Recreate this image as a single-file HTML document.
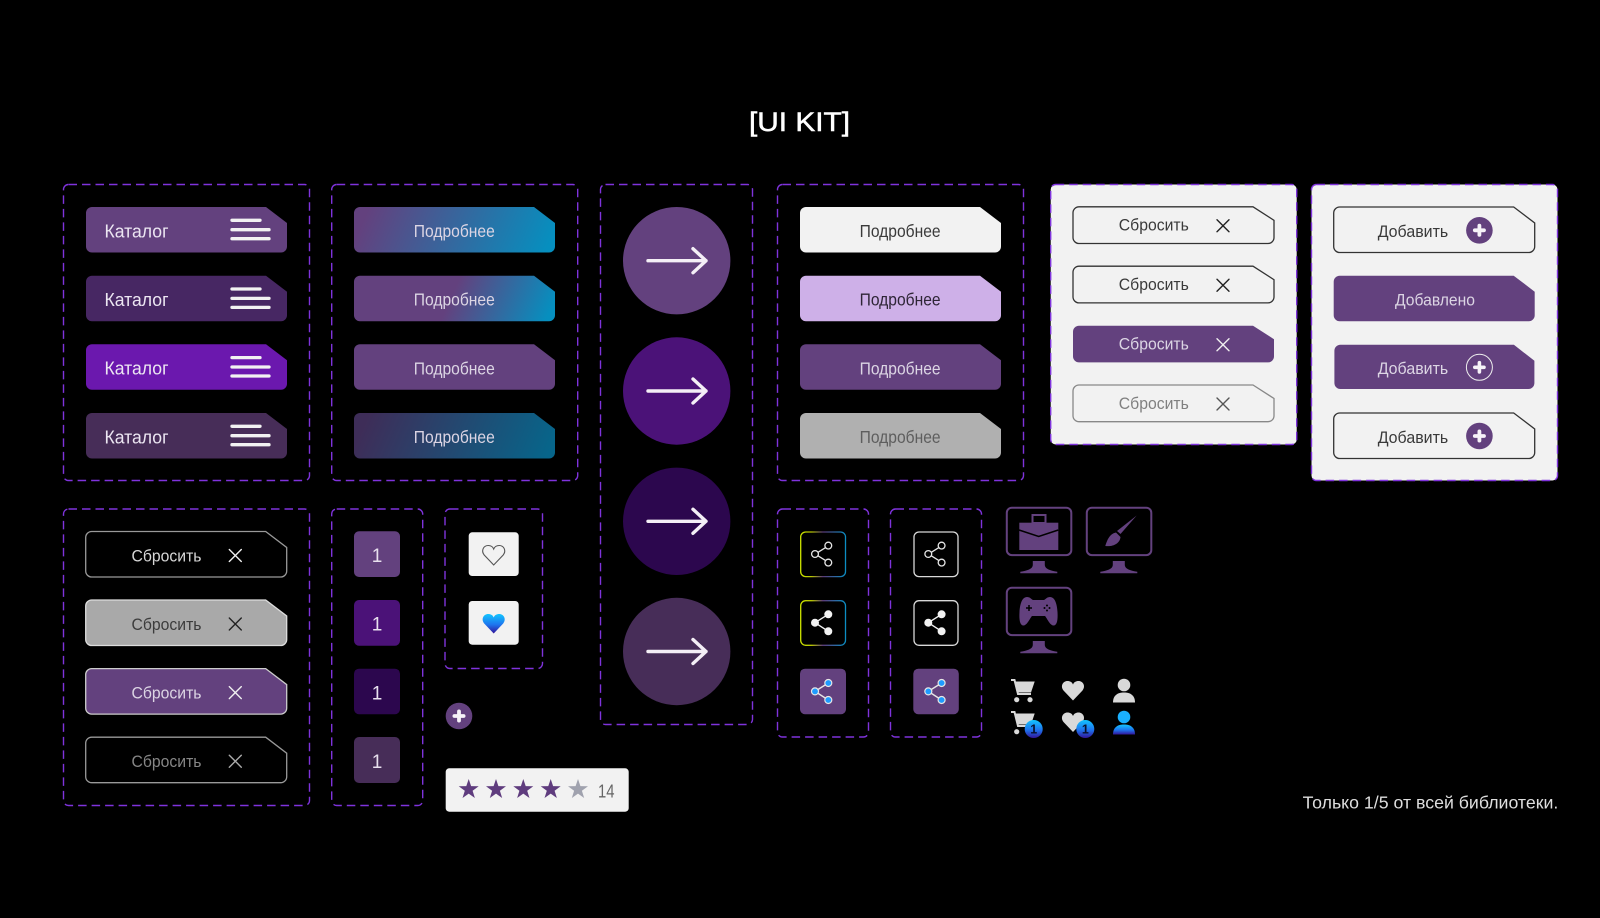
<!DOCTYPE html>
<html lang="ru"><head><meta charset="utf-8"><title>UI KIT</title>
<style>
html,body{margin:0;padding:0;background:#000}
svg{display:block}
text{font-family:"Liberation Sans","Noto Sans CJK SC",sans-serif}
.p{fill:none;stroke:#7f33dc;stroke-width:1.4;stroke-dasharray:8.5 5}
.pw{fill:#f2f2f2;stroke:#7f33dc;stroke-width:1.4;stroke-dasharray:8.5 5}
.x{stroke-width:1.4;fill:none;stroke-linecap:round}
</style></head><body>
<svg width="1600" height="918" viewBox="0 0 1600 918" xmlns="http://www.w3.org/2000/svg">
<defs>
<path id="b" d="M6 0H180L201 16V39.5a6 6 0 0 1-6 6H6a6 6 0 0 1-6-6V6a6 6 0 0 1 6-6Z"/>
<path id="s" d="M6 0H180L201 13.5V30.7a6 6 0 0 1-6 6H6a6 6 0 0 1-6-6V6a6 6 0 0 1 6-6Z"/>
<g id="menu" stroke="#f2f2f2" stroke-width="3.3" stroke-linecap="round"><path d="M146 13.3H174M146 22.7H183M146 31.7H183"/></g>
<g id="arrow" fill="none" stroke="#f4eff6" stroke-width="3.4" stroke-linecap="round" stroke-linejoin="round"><path d="M-29 0H29M16-12 29 0 16 12"/></g>
<path id="star" d="M0-10.5 2.41-3.32 9.99-3.24 3.9 1.27 6.17 8.49 0 4.1-6.17 8.49-3.9 1.27-9.99-3.24-2.41-3.32Z"/>
<g id="plus"><circle r="13.3" fill="#63417e"/><path d="M-4.6 0H4.6M0-4.6V4.6" stroke="#f6f2f8" stroke-width="3.8" stroke-linecap="round"/></g>
<path id="heart" d="M0 19.5-9.5 9.5C-13 5-10 0-5.5 0-3 0-1 1 0 3.5 1 1 3 0 5.5 0 10 0 13 5 9.5 9.5Z"/>
<g id="mon"><rect x="-32" y="0" width="64.5" height="47.4" rx="5" fill="none" stroke="#63417e" stroke-width="2"/><path fill="#63417e" d="M-6 53.3H6V57.5C6.5 61.5 12 63 18.5 64V65.6H-18.5V64C-12 63-6.5 61.5-6 57.5Z"/></g>
<g id="cart"><path d="M4 1.5H23.7L20 12.5H6.5Z" fill="#d9d9d9"/><path d="M0 0H3.5L7 14H20" fill="none" stroke="#d9d9d9" stroke-width="2"/><circle cx="5.7" cy="19.7" r="2.6" fill="#d9d9d9"/><circle cx="19" cy="19.7" r="2.6" fill="#d9d9d9"/></g>
<g id="badge"><circle r="9" fill="url(#gb)"/><text y="4.5" text-anchor="middle" font-size="12.5" font-weight="bold" fill="#08102e">1</text></g>
<g id="shO" fill="none" stroke="#e6e6e6" stroke-width="1.3"><path d="M18 21 26 16M18 24.5 26 29.5"/><circle cx="15" cy="22.7" r="3.4"/><circle cx="28.3" cy="14.3" r="3.4"/><circle cx="28.3" cy="31.3" r="3.4"/></g>
<g id="shF" fill="#f2f2f2" stroke="#f2f2f2"><path d="M15 22.7 28.3 14.3M15 22.7 28.3 31.3" stroke-width="1.4"/><circle cx="15" cy="22.7" r="3.5"/><circle cx="28.3" cy="14.3" r="3.5"/><circle cx="28.3" cy="31.3" r="3.5"/></g>
<g id="shB" stroke="#e6e6e6" stroke-width="1.2"><path d="M15 22.7 28.3 14.3M15 22.7 28.3 31.3" stroke-width="1.4"/><g fill="#1e9bff"><circle cx="15" cy="22.7" r="3.5"/><circle cx="28.3" cy="14.3" r="3.5"/><circle cx="28.3" cy="31.3" r="3.5"/></g></g>
<linearGradient id="g1" x1="0" y1=".45" x2="1" y2=".55"><stop offset=".03" stop-color="#63417e"/><stop offset="1" stop-color="#068fbf"/></linearGradient>
<linearGradient id="g2" x1="0" y1=".45" x2="1" y2=".55"><stop offset=".48" stop-color="#63417e"/><stop offset="1" stop-color="#068fbf"/></linearGradient>
<linearGradient id="g4" x1="0" y1=".45" x2="1" y2=".55"><stop offset=".03" stop-color="#3e2d58"/><stop offset="1" stop-color="#07658a"/></linearGradient>
<linearGradient id="gb" x1="0" y1="0" x2="0" y2="1"><stop offset="0" stop-color="#12c5ff"/><stop offset=".55" stop-color="#1e74ee"/><stop offset="1" stop-color="#32149a"/></linearGradient>
<linearGradient id="gy" gradientUnits="userSpaceOnUse" x1="0" y1="0" x2="46" y2="0"><stop offset="0" stop-color="#cfe600"/><stop offset=".25" stop-color="#b5c400"/><stop offset=".5" stop-color="#5b3a78"/><stop offset="1" stop-color="#0a8fc4"/></linearGradient>
</defs>

<rect width="1600" height="918" fill="#000"/>
<text x="749" y="131" font-size="26.5" fill="#fff" stroke="#fff" stroke-width=".5" textLength="101" lengthAdjust="spacingAndGlyphs">[UI KIT]</text>

<!-- panels -->
<rect class="p" x="63.5" y="184.5" width="246" height="296" rx="5"/>
<rect class="p" x="331.7" y="184.5" width="246" height="296" rx="5"/>
<rect class="p" x="600.5" y="184.5" width="152" height="540" rx="5"/>
<rect class="p" x="777.5" y="184.5" width="246" height="296" rx="5"/>
<rect class="pw" x="1050.7" y="184.5" width="246" height="260" rx="5"/>
<rect class="pw" x="1311.5" y="184.5" width="246" height="296" rx="5"/>
<rect class="p" x="63.5" y="509" width="246" height="296.5" rx="5"/>
<rect class="p" x="331.7" y="509" width="91" height="296.5" rx="5"/>
<rect class="p" x="445" y="509" width="97.5" height="159.5" rx="5"/>
<rect class="p" x="777.5" y="509" width="91" height="228" rx="5"/>
<rect class="p" x="890.5" y="509" width="91" height="228" rx="5"/>

<!-- catalog -->
<g font-size="18.5" fill="#ece6f2">
<g transform="translate(86 207)"><use href="#b" fill="#63417e"/><use href="#menu"/><text x="18.5" y="30.3" textLength="64" lengthAdjust="spacingAndGlyphs">Каталог</text></g>
<g transform="translate(86 275.7)"><use href="#b" fill="#472763"/><use href="#menu"/><text x="18.5" y="30.3" textLength="64" lengthAdjust="spacingAndGlyphs">Каталог</text></g>
<g transform="translate(86 344.3)"><use href="#b" fill="#6b18ae"/><use href="#menu"/><text x="18.5" y="30.3" textLength="64" lengthAdjust="spacingAndGlyphs">Каталог</text></g>
<g transform="translate(86 413)"><use href="#b" fill="#472d58"/><use href="#menu"/><text x="18.5" y="30.3" textLength="64" lengthAdjust="spacingAndGlyphs">Каталог</text></g>
</g>

<!-- gradient buttons -->
<g font-size="17.5" fill="#dcd5e4">
<g transform="translate(354 207)"><use href="#b" fill="url(#g1)"/><text x="59.8" y="30" textLength="81" lengthAdjust="spacingAndGlyphs">Подробнее</text></g>
<g transform="translate(354 275.7)"><use href="#b" fill="url(#g2)"/><text x="59.8" y="30" textLength="81" lengthAdjust="spacingAndGlyphs">Подробнее</text></g>
<g transform="translate(354 344.3)"><use href="#b" fill="#63417e"/><text x="59.8" y="30" textLength="81" lengthAdjust="spacingAndGlyphs">Подробнее</text></g>
<g transform="translate(354 413)"><use href="#b" fill="url(#g4)"/><text x="59.8" y="30" textLength="81" lengthAdjust="spacingAndGlyphs">Подробнее</text></g>
</g>

<!-- circles -->
<g transform="translate(676.7 260.7)"><circle r="53.7" fill="#63417e"/><use href="#arrow" x=".3"/></g>
<g transform="translate(676.7 391)"><circle r="53.7" fill="#4b1278"/><use href="#arrow" x=".3"/></g>
<g transform="translate(676.7 521.3)"><circle r="53.7" fill="#2c074e"/><use href="#arrow" x=".3"/></g>
<g transform="translate(676.7 651.5)"><circle r="53.7" fill="#472d58"/><use href="#arrow" x=".3"/></g>

<!-- light buttons -->
<g font-size="17.5">
<g transform="translate(800 207)"><use href="#b" fill="#f2f2f2"/><text x="59.6" y="30" fill="#3a3a3a" textLength="81" lengthAdjust="spacingAndGlyphs">Подробнее</text></g>
<g transform="translate(800 275.7)"><use href="#b" fill="#ceb0e8"/><text x="59.6" y="30" fill="#2e2536" textLength="81" lengthAdjust="spacingAndGlyphs">Подробнее</text></g>
<g transform="translate(800 344.3)"><use href="#b" fill="#63417e"/><text x="59.6" y="30" fill="#dcd5e4" textLength="81" lengthAdjust="spacingAndGlyphs">Подробнее</text></g>
<g transform="translate(800 413)"><use href="#b" fill="#b0b0b0"/><text x="59.6" y="30" fill="#5e5e5e" textLength="81" lengthAdjust="spacingAndGlyphs">Подробнее</text></g>
</g>

<!-- reset (light panel) -->
<g font-size="17">
<g transform="translate(1073 206.8)"><use href="#s" fill="#f2f2f2" stroke="#333" stroke-width="1.3"/><text x="45.8" y="23.8" fill="#3a3a3a" textLength="70" lengthAdjust="spacingAndGlyphs">Сбросить</text><path class="x" stroke="#222" d="M144 13 156 25M156 13 144 25"/></g>
<g transform="translate(1073 266.2)"><use href="#s" fill="#f2f2f2" stroke="#333" stroke-width="1.3"/><text x="45.8" y="23.8" fill="#3a3a3a" textLength="70" lengthAdjust="spacingAndGlyphs">Сбросить</text><path class="x" stroke="#222" d="M144 13 156 25M156 13 144 25"/></g>
<g transform="translate(1073 325.7)"><use href="#s" fill="#63417e"/><text x="45.8" y="23.8" fill="#dcd5e4" textLength="70" lengthAdjust="spacingAndGlyphs">Сбросить</text><path class="x" stroke="#f0f0f0" d="M144 13 156 25M156 13 144 25"/></g>
<g transform="translate(1073 385)"><use href="#s" fill="#f2f2f2" stroke="#888" stroke-width="1.3"/><text x="45.8" y="23.8" fill="#808080" textLength="70" lengthAdjust="spacingAndGlyphs">Сбросить</text><path class="x" stroke="#555" d="M144 13 156 25M156 13 144 25"/></g>
</g>

<!-- add -->
<g font-size="17">
<g transform="translate(1333.7 207)"><use href="#b" fill="#f2f2f2" stroke="#333" stroke-width="1.3"/><text x="44" y="30" fill="#3a3a3a" textLength="70.5" lengthAdjust="spacingAndGlyphs">Добавить</text><use href="#plus" x="145.7" y="23.3"/></g>
<g transform="translate(1333.7 275.7)"><use href="#b" fill="#63417e"/><text x="61.3" y="30" fill="#dcd5e4" textLength="80" lengthAdjust="spacingAndGlyphs">Добавлено</text></g>
<g transform="translate(1334.4 344.8)"><path d="M6 0H179.5L200 16V38.2a6 6 0 0 1-6 6H6a6 6 0 0 1-6-6V6a6 6 0 0 1 6-6Z" fill="#63417e"/><text x="43.3" y="29.4" fill="#dcd5e4" textLength="70.5" lengthAdjust="spacingAndGlyphs">Добавить</text><g transform="translate(145 22.5)"><circle r="13" fill="none" stroke="#eee" stroke-width="1"/><path d="M-4.6 0H4.6M0-4.6V4.6" stroke="#f6f2f8" stroke-width="3.6" stroke-linecap="round"/></g></g>
<g transform="translate(1333.7 413)"><use href="#b" fill="#f2f2f2" stroke="#333" stroke-width="1.3"/><text x="44" y="30" fill="#3a3a3a" textLength="70.5" lengthAdjust="spacingAndGlyphs">Добавить</text><use href="#plus" x="145.7" y="23"/></g>
</g>

<!-- reset (dark panel) -->
<g font-size="17">
<g transform="translate(85.7 531.5)"><use href="#b" fill="#000" stroke="#999" stroke-width="1.3"/><text x="45.8" y="29.8" fill="#d6d6d6" textLength="70" lengthAdjust="spacingAndGlyphs">Сбросить</text><path class="x" stroke="#f0f0f0" d="M143.6 18 155.6 30M155.6 18 143.6 30"/></g>
<g transform="translate(85.7 600)"><use href="#b" fill="#a9a9a9" stroke="#ddd" stroke-width="1.3"/><text x="45.8" y="29.8" fill="#3c3c3c" textLength="70" lengthAdjust="spacingAndGlyphs">Сбросить</text><path class="x" stroke="#222" d="M143.6 18 155.6 30M155.6 18 143.6 30"/></g>
<g transform="translate(85.7 668.6)"><use href="#b" fill="#63417e" stroke="#ccc" stroke-width="1.3"/><text x="45.8" y="29.8" fill="#dcd5e4" textLength="70" lengthAdjust="spacingAndGlyphs">Сбросить</text><path class="x" stroke="#f0f0f0" d="M143.6 18 155.6 30M155.6 18 143.6 30"/></g>
<g transform="translate(85.7 737.2)"><use href="#b" fill="#000" stroke="#999" stroke-width="1.3"/><text x="45.8" y="29.8" fill="#868686" textLength="70" lengthAdjust="spacingAndGlyphs">Сбросить</text><path class="x" stroke="#aaa" d="M143.6 18 155.6 30M155.6 18 143.6 30"/></g>
</g>

<!-- numbers -->
<g font-size="19" fill="#e8e0ee" text-anchor="middle">
<rect x="354" y="531.3" width="46" height="45.7" rx="5" fill="#63417e"/><text x="377" y="562">1</text>
<rect x="354" y="600" width="46" height="45.7" rx="5" fill="#4b1278"/><text x="377" y="630.6">1</text>
<rect x="354" y="668.7" width="46" height="45.5" rx="5" fill="#2c074e"/><text x="377" y="699.3">1</text>
<rect x="354" y="737" width="46" height="46" rx="5" fill="#472d58"/><text x="377" y="768">1</text>
</g>

<!-- hearts -->
<rect x="468.7" y="532.3" width="50" height="43.7" rx="3.5" fill="#f2f2f2"/>
<rect x="468.7" y="601" width="50" height="43.7" rx="3.5" fill="#f2f2f2"/>
<use href="#heart" x="493.7" y="545.5" fill="none" stroke="#555" stroke-width="1.1"/>
<use href="#heart" x="493.7" y="614" fill="url(#gb)"/>

<use href="#plus" x="459" y="716"/>

<!-- rating -->
<rect x="445.7" y="768.3" width="183" height="43.4" rx="3.5" fill="#f2f2f2"/>
<g fill="#5f3c7e"><use href="#star" x="468.7" y="789.5"/><use href="#star" x="496" y="789.5"/><use href="#star" x="523.3" y="789.5"/><use href="#star" x="550.7" y="789.5"/></g>
<use href="#star" x="578" y="789.5" fill="#a0a2ae"/>
<text x="598" y="797.3" font-size="18" fill="#666" textLength="16.5" lengthAdjust="spacingAndGlyphs">14</text>

<!-- share -->
<g transform="translate(800 531.3)"><rect x=".7" y=".7" width="44.8" height="44.6" rx="5" fill="#000" stroke="url(#gy)" stroke-width="1.3"/><use href="#shO"/></g>
<g transform="translate(800 600)"><rect x=".7" y=".7" width="44.8" height="44.6" rx="5" fill="#000" stroke="url(#gy)" stroke-width="1.3"/><use href="#shF"/></g>
<g transform="translate(800 668.7)"><rect width="46" height="45.5" rx="5" fill="#63417e"/><use href="#shB"/></g>
<g transform="translate(913.3 531.3)"><rect x=".7" y=".7" width="44" height="44.6" rx="5" fill="#000" stroke="#d8d8d8" stroke-width="1.3"/><use href="#shO"/></g>
<g transform="translate(913.3 600)"><rect x=".7" y=".7" width="44" height="44.6" rx="5" fill="#000" stroke="#d8d8d8" stroke-width="1.3"/><use href="#shF"/></g>
<g transform="translate(913.3 668.7)"><rect width="45.5" height="45.5" rx="5" fill="#63417e"/><use href="#shB"/></g>

<!-- monitors -->
<use href="#mon" x="1038.8" y="507.7"/>
<use href="#mon" x="1118.8" y="507.7"/>
<use href="#mon" x="1038.8" y="587.7"/>
<g fill="#63417e">
<rect x="1032.5" y="515" width="13" height="8" fill="none" stroke="#63417e" stroke-width="2"/>
<rect x="1019.3" y="522.7" width="39" height="27.3"/>
<path d="M1019 530 1038.7 536.5 1058.3 530" fill="none" stroke="#000" stroke-width="1.5"/>
<path d="M1136.7 515.5 1120.5 534 1117 531Z"/>
<path d="M1116 532.5C1109 534 1107 541 1105.3 546 1113 547 1120 543.5 1120.5 537Z"/>
<path d="M1027 597C1022 597 1020 604 1019.5 612 1019 620 1020 625 1023 625.5 1027 626 1030 618 1032 616H1045C1047 618 1050 626 1054 625.5 1057 625 1058 620 1057.5 612 1057 604 1055 597 1050 597 1047 597 1046 599 1044 600H1033C1031 599 1030 597 1027 597Z"/>
</g>
<path d="M1026 608H1032M1029 605V611" stroke="#000" stroke-width="1.5"/>
<g fill="#000"><circle cx="1047" cy="605.5" r="1"/><circle cx="1047" cy="610.5" r="1"/><circle cx="1044.5" cy="608" r="1"/><circle cx="1049.5" cy="608" r="1"/></g>

<!-- small icons -->
<use href="#cart" x="1011" y="680"/>
<use href="#heart" x="1073" y="681" fill="#d9d9d9"/>
<circle cx="1124" cy="685" r="6.3" fill="#d9d9d9"/>
<path d="M1113 702.5C1113 695 1118 692.5 1124 692.5 1130 692.5 1135 695 1135 702.5Z" fill="#d9d9d9"/>
<use href="#cart" x="1011" y="712"/>
<use href="#heart" x="1073" y="712.5" fill="#d9d9d9"/>
<circle cx="1124" cy="717" r="6.3" fill="#1ab0ff"/>
<path d="M1113 734.5C1113 727 1118 724.5 1124 724.5 1130 724.5 1135 727 1135 734.5Z" fill="url(#gb)"/>
<use href="#badge" x="1033.7" y="729"/>
<use href="#badge" x="1085.3" y="729"/>

<text x="1302.7" y="808.7" font-size="17.5" fill="#dedede" textLength="255.6" lengthAdjust="spacingAndGlyphs">Только 1/5 от всей библиотеки.</text>
</svg>
</body></html>
